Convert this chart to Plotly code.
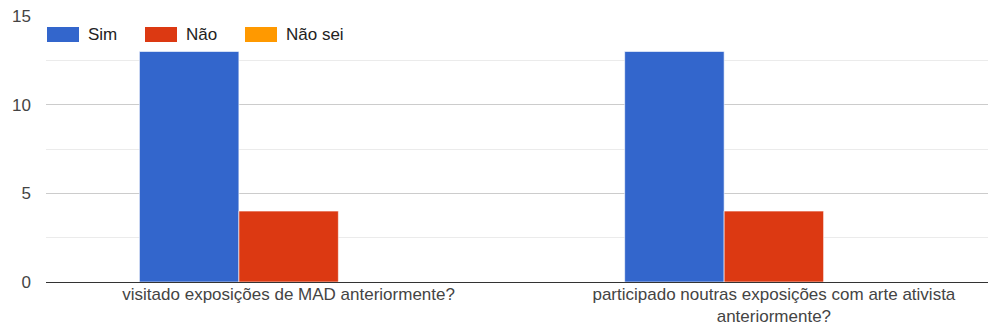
import plotly.graph_objects as go

categories = ["visitado exposições de MAD anteriormente?",
              "participado noutras exposições com arte ativista<br>anteriormente?"]
series_names = ["Sim", "Não", "Não sei"]
sim = [13, 13]
nao = [4, 4]
nao_sei = [0, 0]
colors = ["#3366cc", "#dc3912", "#ff9900"]

# page has an 8px body margin, so the figure is shifted by that much
OFF = 8
W, H = 996 - OFF, 336 - OFF
L, R, T, B = 46 - OFF, 0, 16 - OFF, 54
pw = W - L - R
ph = H - T - B
PL, PT = L + OFF, T + OFF  # plot-area corner in page pixels

fig = go.Figure()
for name, vals, c in zip(series_names, [sim, nao, nao_sei], colors):
    fig.add_trace(go.Bar(x=[0, 1], y=vals, name=name, marker_color=c,
                         marker_line=dict(color="rgba(255,255,255,0.6)", width=1),
                         showlegend=False))

# legend drawn by hand to get the wide Google-style swatches
leg_x = [47, 145, 245]
for name, c, lx in zip(series_names, colors, leg_x):
    fig.add_shape(type="rect", xref="paper", yref="paper",
                  x0=(lx - PL) / pw, x1=(lx + 32 - PL) / pw,
                  y0=1 - (42 - PT) / ph, y1=1 - (27 - PT) / ph,
                  fillcolor=c, line=dict(color=c, width=0), layer="above")
    fig.add_annotation(xref="paper", yref="paper", x=(lx + 39 - PL) / pw, y=1 - (34.5 - PT) / ph,
                       text=name, showarrow=False, xanchor="left", yanchor="middle",
                       font=dict(size=17, color="#222222"))

fig.update_layout(
    width=W, height=H,
    margin=dict(l=L, r=R, t=T, b=B),
    paper_bgcolor="white", plot_bgcolor="white",
    barmode="group", bargap=0.385, bargroupgap=0.0,
    font=dict(family="Arial, Liberation Sans, sans-serif", size=17, color="#444444"),
    xaxis=dict(tickmode="array", tickvals=[0, 1], ticktext=categories,
               range=[-0.5, 1.5 - 20.5 / 485], showgrid=False, showline=False,
               ticks="", tickfont=dict(size=17, color="#444444")),
    yaxis=dict(range=[0, 15], tickvals=[0, 5, 10, 15], showgrid=True, gridcolor="#cccccc",
               gridwidth=1, zeroline=True, zerolinecolor="#333333", zerolinewidth=1,
               ticks="", ticklabelstandoff=14, ticklabeloverflow="allow",
               tickfont=dict(size=17, color="#444444"),
               minor=dict(tickvals=[2.5, 7.5, 12.5], showgrid=True, gridcolor="#ebebeb")),
)

fig.write_html("out.html")
